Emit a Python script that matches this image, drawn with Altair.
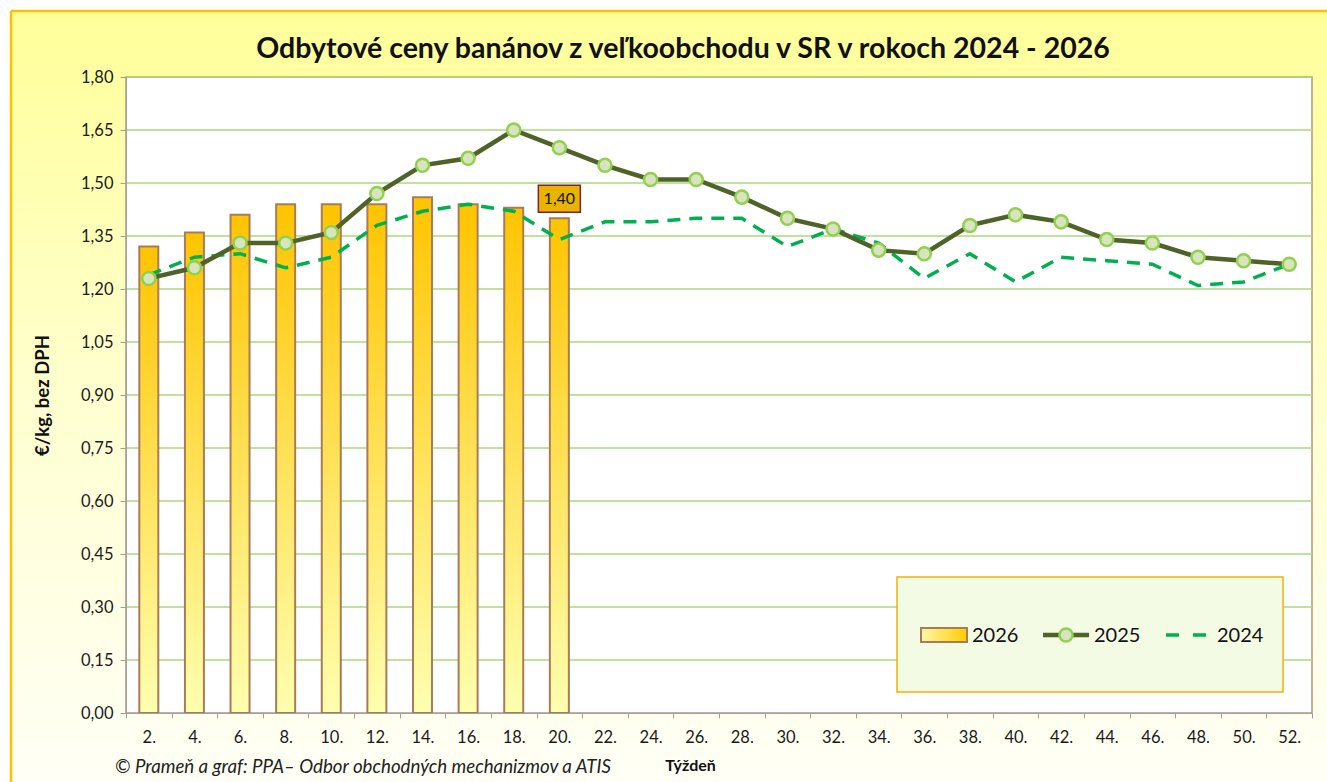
import altair as alt
import pandas as pd

# ---------------- data ----------------
weeks = list(range(2, 53, 2))
week_labels = [f"{w}." for w in weeks]

prices_2026 = [1.32, 1.36, 1.41, 1.44, 1.44, 1.44, 1.46, 1.44, 1.43, 1.40]
prices_2025 = [1.23, 1.26, 1.33, 1.33, 1.36, 1.47, 1.55, 1.57, 1.65, 1.60,
               1.55, 1.51, 1.51, 1.46, 1.40, 1.37, 1.31, 1.30, 1.38, 1.41,
               1.39, 1.34, 1.33, 1.29, 1.28, 1.27]
prices_2024 = [1.24, 1.29, 1.30, 1.26, 1.29, 1.38, 1.42, 1.44, 1.42, 1.34,
               1.39, 1.39, 1.40, 1.40, 1.32, 1.37, 1.33, 1.23, 1.30, 1.22,
               1.29, 1.28, 1.27, 1.21, 1.22, 1.27]
y_ticks = [0.00, 0.15, 0.30, 0.45, 0.60, 0.75, 0.90, 1.05, 1.20, 1.35, 1.50, 1.65, 1.80]
series_names = ["2026", "2025", "2024"]

title_text = "Odbytové ceny banánov z veľkoobchodu v SR v rokoch 2024 - 2026"
y_title = "€/kg, bez DPH"
x_title = "Týždeň"
source_text = "© Prameň a graf: PPA– Odbor obchodných mechanizmov a ATIS"

df26 = pd.DataFrame({"week": week_labels[:len(prices_2026)], "value": prices_2026})
df25 = pd.DataFrame({"week": week_labels, "value": prices_2025})
df24 = pd.DataFrame({"week": week_labels, "value": prices_2024})
dfgrid = pd.DataFrame({"value": y_ticks[1:]})
dflast = df26.tail(1).copy()

# ---------------- layout ----------------
W, H = 1186, 636
PAD_L, PAD_T = 126, 77
FONT = "Lato"
dummy = alt.Data(values=[{}])

xscale = alt.Scale(domain=week_labels, paddingInner=0, paddingOuter=0)
yscale = alt.Scale(domain=[0, 1.8], nice=False, zero=True)

x_axis = alt.Axis(
    title=x_title, labelAngle=0, tickBand="extent", domainColor="#A0A0A0",
    tickColor="#A0A0A0", tickSize=5, labelPadding=11, labelFontSize=16.5,
    labelFont=FONT, labelColor="#1a1a1a", titleFont=FONT, titleFontSize=16,
    titleFontWeight="bold", titleX=564, titleY=52, titleBaseline="middle",
    titleColor="#111", grid=False, zindex=1)
y_axis = alt.Axis(
    title=y_title, values=y_ticks,
    labelExpr="replace(format(datum.value, '.2f'), '.', ',')",
    grid=False, domainColor="#A0A0A0", tickColor="#A0A0A0", tickSize=6,
    labelFontSize=16.5, labelFont=FONT, labelColor="#1a1a1a", labelPadding=7,
    titleFont=FONT, titleFontSize=18.5, titleFontWeight="bold", titleColor="#111",
    titleAngle=270, titleX=-84, titleY=318, titleAlign="center",
    titleBaseline="middle", zindex=1)

X = alt.X("week:N", sort=week_labels, scale=xscale, axis=x_axis)
Y = alt.Y("value:Q", scale=yscale, axis=y_axis)

# background decorations
bg = alt.Chart(dummy).mark_rect(
    fill=alt.Gradient(gradient="linear", x1=0, x2=0, y1=0, y2=1,
                      stops=[alt.GradientStop(color="#FFFF99", offset=0),
                             alt.GradientStop(color="#FFFFD0", offset=0.5),
                             alt.GradientStop(color="#FFFFF6", offset=1)])
).encode(x=alt.value(-115), x2=alt.value(W + 15), y=alt.value(-66), y2=alt.value(H + 69))

border_left = alt.Chart(dummy).mark_rule(color="#FFC000", strokeWidth=2.5).encode(
    x=alt.value(-115), y=alt.value(-66), y2=alt.value(H + 69))
border_top = alt.Chart(dummy).mark_rule(color="#FFC000", strokeWidth=2.5).encode(
    x=alt.value(-115), x2=alt.value(W + 15), y=alt.value(-66))

plot_bg = alt.Chart(dummy).mark_rect(fill="white", stroke="#B8957A", strokeWidth=1.5).encode(
    x=alt.value(0), x2=alt.value(W), y=alt.value(0), y2=alt.value(H))

grid = alt.Chart(dfgrid).mark_rule(color="#ABD97E", strokeWidth=1.3).encode(
    y=Y, x=alt.value(0), x2=alt.value(W))

bars = alt.Chart(df26).mark_bar(
    size=19, stroke="#A97C58", strokeWidth=2,
    fill=alt.Gradient(gradient="linear", x1=0, x2=0, y1=0, y2=1,
                      stops=[alt.GradientStop(color="#FFC400", offset=0),
                             alt.GradientStop(color="#FFFFB0", offset=1)])
).encode(x=X, y=Y)

line24 = alt.Chart(df24).mark_line(
    color="#00B050", strokeWidth=3.5, strokeDash=[13, 9]).encode(x=X, y=Y)

line25 = alt.Chart(df25).mark_line(color="#4F6228", strokeWidth=4.5).encode(x=X, y=Y)
pts25 = alt.Chart(df25).mark_point(
    shape="circle", size=170, filled=True, fill="#D7E4BD", stroke="#92D050",
    strokeWidth=2.5, opacity=1).encode(x=X, y=Y)

label_box = alt.Chart(dflast).mark_point(
    shape="M-1,-0.643H1V0.643H-1Z", size=1764, filled=True, fill="#E8B400",
    stroke="#7F1F3F", strokeWidth=1.5, opacity=1, yOffset=-19.5).encode(x=X, y=Y)
label_txt = alt.Chart(dflast).transform_calculate(
    lbl="replace(format(datum.value, '.2f'), '.', ',')"
).mark_text(font=FONT, fontSize=16, color="#111", dy=-19.5, baseline="middle").encode(
    x=X, y=Y, text="lbl:N")

# legend (drawn)
LY = 558
leg_box = alt.Chart(dummy).mark_rect(fill="#F3FBE5", stroke="#F0B400", strokeWidth=1.5).encode(
    x=alt.value(771), x2=alt.value(1157), y=alt.value(500), y2=alt.value(615))
leg26 = alt.Chart(dummy).mark_rect(
    stroke="#A97C58", strokeWidth=2,
    fill=alt.Gradient(gradient="linear", x1=0, x2=1, y1=0, y2=0,
                      stops=[alt.GradientStop(color="#FFF9A8", offset=0),
                             alt.GradientStop(color="#FFCC00", offset=1)])
).encode(x=alt.value(795), x2=alt.value(841), y=alt.value(LY - 7), y2=alt.value(LY + 7))
leg25_line = alt.Chart(dummy).mark_rule(color="#4F6228", strokeWidth=4.5).encode(
    x=alt.value(917), x2=alt.value(963), y=alt.value(LY))
leg25_pt = alt.Chart(dummy).mark_point(
    shape="circle", size=170, filled=True, fill="#D7E4BD", stroke="#92D050",
    strokeWidth=2.5, opacity=1).encode(x=alt.value(940), y=alt.value(LY))
leg24_line = alt.Chart(dummy).mark_rule(color="#00B050", strokeWidth=3.5, strokeDash=[13, 14]).encode(
    x=alt.value(1040), x2=alt.value(1081), y=alt.value(LY))
leg_texts = [
    alt.Chart(dummy).mark_text(text=name, font=FONT, fontSize=20, color="#111",
                               align="left", baseline="middle").encode(
        x=alt.value(xp), y=alt.value(LY + 1))
    for name, xp in zip(series_names, [846, 968, 1091])
]

title = alt.Chart(dummy).mark_text(
    text=title_text, font=FONT, fontSize=28.5, fontWeight="bold", color="#111",
    align="center", baseline="middle").encode(x=alt.value(557), y=alt.value(-28))

source = alt.Chart(dummy).mark_text(
    text=source_text, font=FONT, fontSize=18.7, fontStyle="italic", color="#222",
    align="left", baseline="middle").encode(x=alt.value(-11), y=alt.value(690))

chart = alt.layer(
    bg, border_left, border_top, plot_bg, grid, bars, line24, line25, pts25,
    label_box, label_txt, leg_box, leg26, leg25_line, leg25_pt, leg24_line,
    *leg_texts, title, source
).properties(
    width=W, height=H,
    autosize=alt.AutoSizeParams(type="none"),
    padding={"left": PAD_L, "top": PAD_T, "right": 1327 - PAD_L - W, "bottom": 782 - PAD_T - H},
    background="white",
).configure_view(stroke=None)

chart.save("out.html", embed_options={"renderer": "svg", "actions": False})
